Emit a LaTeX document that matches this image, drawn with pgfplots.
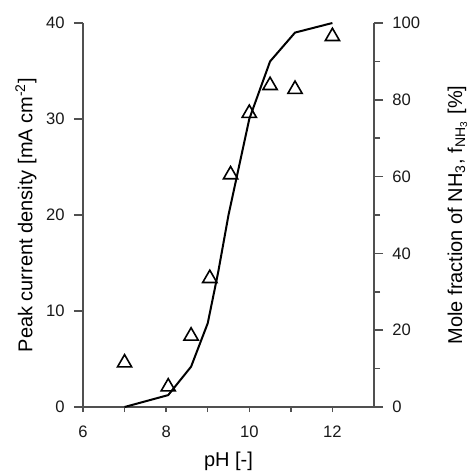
\documentclass[border=0pt]{standalone}
\usepackage{pgfplots}
\pgfplotsset{compat=1.18}
\usepackage{fontspec}
\setmainfont{Liberation Sans}
\definecolor{spine}{HTML}{505050}
\begin{document}
\begin{tikzpicture}
\pgfplotsset{
  common/.style={
    scale only axis, width=145.5pt, height=192pt,
    at={(0,0)}, anchor=south west,
    xmin=6, xmax=13,
    tick align=outside,
    axis line style={spine, line width=0.85pt},
    every tick/.style={spine, line width=0.75pt},
    major tick length=4.5pt, minor tick length=3pt,
    /pgf/number format/assume math mode=true,
    tick label style={font=\fontsize{8.3}{10}\selectfont, text=black!90},
    label style={font=\fontsize{10}{12}\selectfont},
    tick label style={inner sep=0pt},
  }
}
\begin{axis}[common,
  axis x line*=bottom, axis y line*=left,
  ymin=0, ymax=40,
  xtick={6,8,10,12}, minor xtick={7,9,11},
  xtick style={/pgfplots/major tick length=2.5pt, /pgfplots/minor tick length=2.5pt},
  xticklabel style={anchor=north, yshift=-5pt},
  yticklabel style={anchor=east, xshift=-4.5pt},
  xlabel={pH [-]},
  xlabel style={at={(axis description cs:0.5,-0.115)}, anchor=north, inner sep=0pt},
  ylabel={Peak current density [mA cm\textsuperscript{-2}]},
  ylabel style={at={(axis description cs:-0.158,0.5)}, anchor=south, inner sep=0pt, rotate=0},
  clip=false,
]
\addplot[only marks, mark=triangle, mark size=4.1pt, mark options={black, line width=0.8pt, fill=white}]
coordinates {
(7.0,4.6) (8.05,2.1) (8.6,7.4) (9.05,13.4) (9.55,24.2) (10.0,30.6) (10.5,33.5) (11.1,33.1) (12.0,38.6)
};
\end{axis}
\begin{axis}[common,
  axis x line=none, axis y line*=right,
  ymin=0, ymax=100,
  ytick={0,20,40,60,80,100}, minor ytick={10,30,50,70,90},
  yticklabel style={anchor=west, xshift=4.5pt},
  ylabel={Mole fraction of NH\textsubscript{3}, f\textsubscript{NH\textsubscript{3}} [\%]},
  ylabel style={at={(axis description cs:1.322,0.5)}, anchor=south, inner sep=0pt, rotate=0},
  clip=false,
]
\addplot[black, line width=1pt, mark=none]
coordinates {
(7.0,0) (8.05,3.1) (8.6,10.5) (9.0,21.8) (9.25,35) (9.5,50) (10.0,75) (10.5,90) (11.1,97.5) (12.0,100)
};
\end{axis}
\path[use as bounding box] (-41.5pt,-32pt) rectangle (191.5pt,203.5pt);
\end{tikzpicture}
\end{document}
